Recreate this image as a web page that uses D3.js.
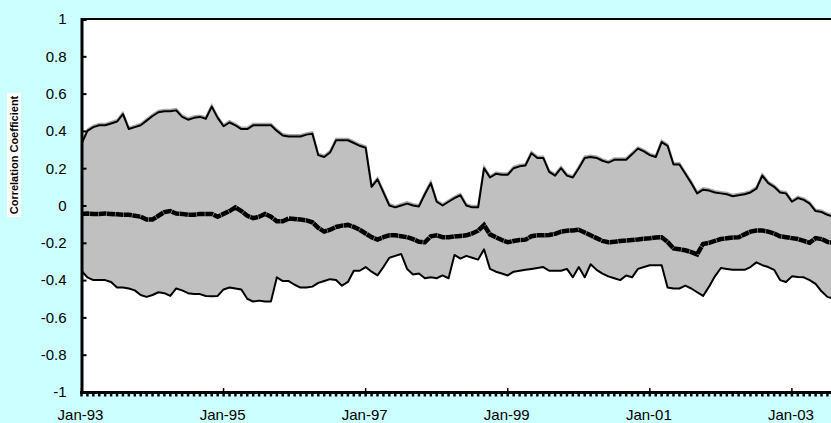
<!DOCTYPE html>
<html>
<head>
<meta charset="utf-8">
<script src="https://cdn.jsdelivr.net/npm/d3@7"></script>
<style>
  body { margin: 0; background: #ccffff; }
  svg { display: block; font-family: "Liberation Sans", Arial, sans-serif; }
</style>
</head>
<body>
<div id="chart"></div>
<script>
// monthly values, Jan-93 onwards
var upper = [0.33, 0.40, 0.42, 0.43, 0.43, 0.44, 0.45, 0.49, 0.41, 0.42, 0.43, 0.455, 0.48, 0.50, 0.505, 0.505,
  0.51, 0.475, 0.46, 0.47, 0.475, 0.465, 0.53, 0.47, 0.425, 0.445, 0.43, 0.41, 0.41, 0.43, 0.43, 0.43,
  0.43, 0.40, 0.375, 0.37, 0.37, 0.37, 0.38, 0.385, 0.27, 0.26, 0.285, 0.35, 0.35, 0.35, 0.335, 0.32,
  0.31, 0.10, 0.14, 0.07, 0.00, -0.01, 0.00, 0.01, 0.00, -0.005, 0.06, 0.12, 0.02, 0.00, 0.02, 0.04,
  0.055, 0.00, -0.01, -0.01, 0.20, 0.15, 0.17, 0.165, 0.165, 0.20, 0.21, 0.215, 0.28, 0.255, 0.255, 0.18,
  0.16, 0.20, 0.16, 0.15, 0.20, 0.255, 0.26, 0.255, 0.24, 0.23, 0.245, 0.245, 0.245, 0.275, 0.305, 0.29,
  0.27, 0.26, 0.34, 0.32, 0.22, 0.22, 0.17, 0.12, 0.065, 0.085, 0.08, 0.07, 0.065, 0.06, 0.05, 0.055,
  0.06, 0.07, 0.09, 0.16, 0.12, 0.10, 0.07, 0.065, 0.02, 0.04, 0.03, 0.01, -0.03, -0.035, -0.05, -0.06];

var lower = [-0.35, -0.385, -0.40, -0.40, -0.40, -0.41, -0.44, -0.44, -0.445, -0.455, -0.48, -0.49, -0.48, -0.465, -0.47, -0.485,
  -0.445, -0.455, -0.47, -0.475, -0.475, -0.485, -0.487, -0.485, -0.45, -0.44, -0.445, -0.45, -0.50, -0.515, -0.51, -0.515,
  -0.515, -0.385, -0.405, -0.405, -0.425, -0.44, -0.44, -0.435, -0.415, -0.405, -0.395, -0.40, -0.43, -0.41, -0.35, -0.35,
  -0.33, -0.355, -0.375, -0.33, -0.28, -0.27, -0.26, -0.34, -0.37, -0.365, -0.39, -0.385, -0.39, -0.375, -0.39, -0.265,
  -0.285, -0.27, -0.28, -0.29, -0.235, -0.34, -0.355, -0.365, -0.375, -0.355, -0.35, -0.345, -0.34, -0.335, -0.33, -0.35,
  -0.35, -0.35, -0.34, -0.385, -0.33, -0.385, -0.315, -0.345, -0.365, -0.38, -0.39, -0.40, -0.375, -0.385, -0.34, -0.33,
  -0.32, -0.32, -0.32, -0.44, -0.445, -0.445, -0.43, -0.445, -0.465, -0.485, -0.435, -0.38, -0.335, -0.34, -0.345, -0.345,
  -0.345, -0.33, -0.305, -0.32, -0.33, -0.345, -0.40, -0.41, -0.38, -0.383, -0.385, -0.40, -0.42, -0.46, -0.49, -0.50];

var mean = [-0.045, -0.043, -0.045, -0.045, -0.043, -0.045, -0.047, -0.05, -0.05, -0.055, -0.06, -0.075, -0.075, -0.055, -0.035, -0.03,
  -0.043, -0.045, -0.05, -0.05, -0.045, -0.045, -0.045, -0.06, -0.045, -0.03, -0.01, -0.03, -0.055, -0.068, -0.06, -0.045,
  -0.06, -0.085, -0.085, -0.07, -0.072, -0.075, -0.08, -0.09, -0.12, -0.14, -0.13, -0.115, -0.108, -0.104, -0.115, -0.13,
  -0.15, -0.17, -0.183, -0.17, -0.16, -0.16, -0.165, -0.17, -0.18, -0.195, -0.197, -0.165, -0.16, -0.17, -0.17, -0.166,
  -0.163, -0.16, -0.15, -0.135, -0.105, -0.155, -0.17, -0.185, -0.197, -0.19, -0.185, -0.183, -0.165, -0.16, -0.16, -0.158,
  -0.152, -0.14, -0.135, -0.134, -0.13, -0.145, -0.16, -0.175, -0.19, -0.197, -0.195, -0.19, -0.188, -0.185, -0.182, -0.178,
  -0.176, -0.172, -0.17, -0.195, -0.23, -0.235, -0.24, -0.25, -0.262, -0.206, -0.2, -0.19, -0.18, -0.176, -0.172, -0.17,
  -0.155, -0.14, -0.134, -0.134, -0.14, -0.15, -0.165, -0.17, -0.175, -0.18, -0.19, -0.2, -0.175, -0.18, -0.195, -0.2];

var xTickLabels = ['Jan-93', 'Jan-95', 'Jan-97', 'Jan-99', 'Jan-01', 'Jan-03'];
var yTicks = [-1, -0.8, -0.6, -0.4, -0.2, 0, 0.2, 0.4, 0.6, 0.8, 1];

var width = 831, height = 423;
var plotLeft = 81.5, plotTop = 19, plotBottom = 392;

var svg = d3.select('#chart').append('svg')
    .attr('width', width)
    .attr('height', height);

var x = d3.scaleLinear().domain([0, 127]).range([plotLeft, plotLeft + 5.92 * 127]);
var y = d3.scaleLinear().domain([-1, 1]).range([plotBottom, plotTop]);

svg.append('clipPath').attr('id', 'clip')
  .append('rect').attr('x', plotLeft).attr('y', plotTop)
    .attr('width', width - plotLeft).attr('height', plotBottom - plotTop);

// plot area
svg.append('rect')
    .attr('x', plotLeft).attr('y', plotTop)
    .attr('width', width - plotLeft).attr('height', plotBottom - plotTop)
    .attr('fill', '#ffffff');

var plot = svg.append('g').attr('clip-path', 'url(#clip)');

var band = d3.area()
    .x(function (d, i) { return x(i); })
    .y0(function (d, i) { return y(lower[i]); })
    .y1(function (d, i) { return y(upper[i]); });

plot.append('path')
    .attr('fill', '#c0c0c0')
    .attr('d', band(upper));

var line = d3.line()
    .x(function (d, i) { return x(i); })
    .y(function (d) { return y(d); });

// soft edges on the band lines
plot.append('path')
    .attr('fill', 'none').attr('stroke', '#a8a8a8').attr('stroke-width', 2)
    .attr('transform', 'translate(0,-1.5)')
    .attr('d', line(upper));
plot.append('path')
    .attr('fill', 'none').attr('stroke', '#ffffff').attr('stroke-width', 2)
    .attr('transform', 'translate(0,1.5)')
    .attr('d', line(lower));

plot.append('path')
    .attr('fill', 'none').attr('stroke', '#000').attr('stroke-width', 2)
    .attr('stroke-linejoin', 'round')
    .attr('d', line(upper));
plot.append('path')
    .attr('fill', 'none').attr('stroke', '#000').attr('stroke-width', 2)
    .attr('stroke-linejoin', 'round')
    .attr('d', line(lower));
plot.append('path')
    .attr('fill', 'none').attr('stroke', '#000').attr('stroke-width', 4.5)
    .attr('stroke-dasharray', '8,0.5')
    .attr('d', line(mean));

// top border
svg.append('line')
    .attr('x1', plotLeft).attr('x2', width)
    .attr('y1', plotTop).attr('y2', plotTop)
    .attr('stroke', '#000').attr('stroke-width', 2);

// y axis
var yAxis = svg.append('g')
    .attr('transform', 'translate(' + plotLeft + ',0)')
    .call(d3.axisLeft(y).tickValues(yTicks).tickSize(-5).tickPadding(15)
      .tickFormat(function (d) { return String(+d.toFixed(1)); }));
yAxis.select('.domain').attr('stroke-width', 3);
yAxis.selectAll('.tick line').attr('stroke-width', 2);
yAxis.selectAll('text').attr('font-size', 15).attr('fill', '#000');

// x axis: monthly minor ticks outside, two-year major ticks inside
var minor = d3.range(0, 128);
svg.append('g')
  .selectAll('line')
  .data(minor)
  .enter()
  .append('line')
    .attr('x1', function (d) { return x(d); })
    .attr('x2', function (d) { return x(d); })
    .attr('y1', plotBottom)
    .attr('y2', plotBottom + 4.5)
    .attr('stroke', '#000').attr('stroke-width', 2.5);

svg.append('line')
    .attr('x1', plotLeft - 1.5).attr('x2', width)
    .attr('y1', plotBottom + 0.5).attr('y2', plotBottom + 0.5)
    .attr('stroke', '#000').attr('stroke-width', 3);

svg.append('g')
  .selectAll('line')
  .data(xTickLabels)
  .enter()
  .append('line')
    .attr('x1', function (d, i) { return x(i * 24); })
    .attr('x2', function (d, i) { return x(i * 24); })
    .attr('y1', plotBottom)
    .attr('y2', plotBottom - 4)
    .attr('stroke', '#000').attr('stroke-width', 1.5);

svg.append('g')
  .selectAll('text')
  .data(xTickLabels)
  .enter()
  .append('text')
    .attr('x', function (d, i) { return x(i * 24) - 1; })
    .attr('y', 420)
    .attr('text-anchor', 'middle')
    .attr('font-size', 15)
    .text(function (d) { return d; });

// axis title on a white box
var title = svg.append('g').attr('transform', 'translate(14,155) rotate(-90)');
title.append('rect')
    .attr('x', -62).attr('y', -7).attr('width', 124).attr('height', 14)
    .attr('fill', '#ffffff');
title.append('text')
    .attr('text-anchor', 'middle')
    .attr('dy', '0.35em')
    .attr('font-size', 11)
    .attr('font-weight', 'bold')
    .text('Correlation Coefficient');
</script>
</body>
</html>
